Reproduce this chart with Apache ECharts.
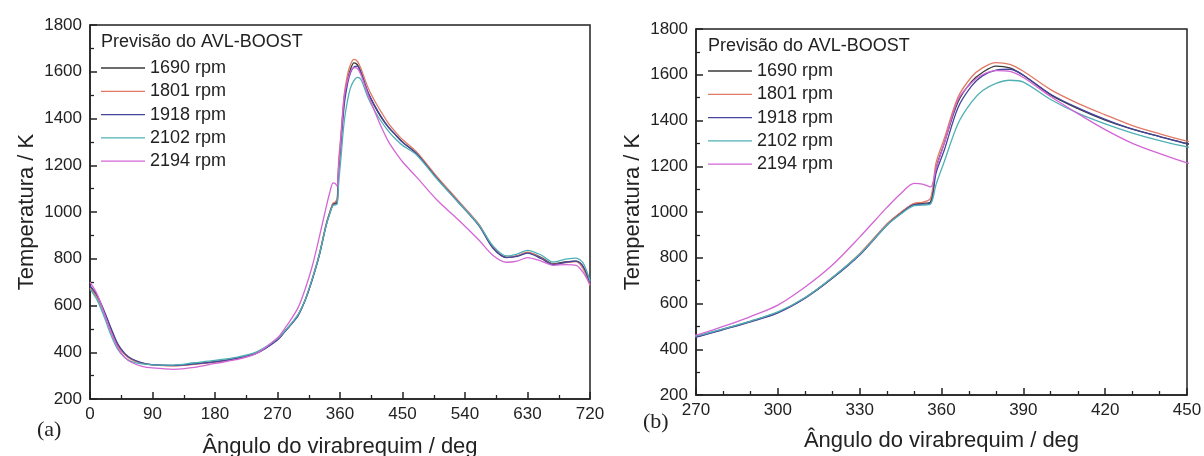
<!DOCTYPE html>
<html>
<head>
<meta charset="utf-8">
<script src="https://cdn.jsdelivr.net/npm/echarts@6/dist/echarts.min.js"></script>
<style>
  html, body { margin: 0; padding: 0; background: #fff; }
  #chart { width: 1204px; height: 456px; }
</style>
</head>
<body>
<div id="chart"></div>
<script>
// Crank angle (deg) shared by every engine speed
const angles = [0, 10, 20, 30, 40, 50, 60, 75, 90, 120, 150, 180, 210, 240, 270,
  280, 290, 300, 310, 320, 330, 340, 345, 350, 353, 356, 358, 361, 366, 371, 375,
  380, 385, 390, 400, 410, 420, 430, 440, 450, 470, 500, 530, 560, 580, 600,
  615, 630, 650, 667, 685, 700, 710, 720];

// In-cylinder temperature (K) predicted by AVL-BOOST
const temp1690 = [680, 640, 575, 500, 432, 392, 370, 353, 346, 343, 350, 360, 373, 397, 455,
  488, 522, 561, 625, 712, 815, 945, 995, 1035, 1038, 1045, 1190, 1300, 1480, 1570, 1610,
  1638, 1630, 1598, 1512, 1452, 1402, 1362, 1330, 1300, 1250, 1145, 1045, 945, 850, 805,
  812, 826, 805, 778, 787, 790, 765, 690];
const temp1801 = [675, 635, 570, 495, 428, 390, 368, 352, 346, 342, 348, 358, 372, 396, 454,
  487, 521, 560, 625, 714, 818, 948, 998, 1038, 1042, 1060, 1215, 1320, 1500, 1590, 1630,
  1653, 1645, 1615, 1535, 1475, 1425, 1378, 1342, 1310, 1258, 1150, 1050, 948, 852, 806,
  812, 828, 802, 776, 783, 788, 758, 685];
const temp1918 = [685, 645, 580, 505, 436, 395, 372, 355, 347, 344, 350, 359, 373, 396, 453,
  486, 520, 559, 623, 710, 812, 942, 992, 1032, 1034, 1040, 1170, 1270, 1455, 1550, 1595,
  1620, 1624, 1598, 1515, 1455, 1405, 1362, 1330, 1298, 1250, 1143, 1043, 942, 846, 806,
  810, 824, 800, 775, 785, 790, 768, 695];
const temp2102 = [670, 625, 555, 475, 412, 378, 360, 350, 346, 345, 355, 365, 378, 402, 458,
  489, 523, 563, 626, 714, 815, 942, 990, 1028, 1030, 1035, 1120, 1220, 1385, 1480, 1530,
  1562, 1576, 1568, 1492, 1432, 1385, 1345, 1312, 1285, 1245, 1140, 1043, 945, 856, 812,
  820, 836, 815, 786, 798, 803, 782, 705];
const temp2194 = [700, 650, 570, 488, 420, 378, 356, 340, 333, 327, 335, 352, 368, 395, 462,
  500, 543, 593, 672, 768, 890, 1020, 1080, 1125, 1122, 1110, 1190, 1300, 1490, 1565, 1600,
  1618, 1615, 1588, 1505, 1430, 1360, 1300, 1255, 1215, 1150, 1050, 968, 880, 815, 785,
  790, 805, 790, 772, 775, 772, 742, 690];

const speedNames = ['1690 rpm', '1801 rpm', '1918 rpm', '2102 rpm', '2194 rpm'];
const speedTemps = [temp1690, temp1801, temp1918, temp2102, temp2194];
const speedColors = ['#3a3a3a', '#e07a66', '#45459e', '#4fb0b4', '#d465d6'];

// Axis ranges [min, max, interval]
const xRangeFull = [0, 720, 90];
const xRangeZoom = [270, 450, 30];
const yRange = [200, 1800, 200];

const SANS = '"Liberation Sans", Arial, sans-serif';
const SERIF = '"Liberation Serif", "Times New Roman", serif';
const INK = '#222';
const plain = v => String(v);

function xAxisFor(gridIndex, range, minorSplit, nameGap) {
  return {
    type: 'value', gridIndex,
    min: range[0], max: range[1], interval: range[2],
    name: 'Ângulo do virabrequim / deg',
    nameLocation: 'middle', nameGap,
    nameTextStyle: { fontSize: 22, color: INK, fontFamily: SANS },
    axisLine: { show: true, onZero: false, lineStyle: { color: INK, width: 1.5 } },
    axisTick: { show: true, inside: true, length: 7, lineStyle: { color: INK, width: 1.5 } },
    minorTick: { show: true, splitNumber: minorSplit, length: 4, lineStyle: { color: INK, width: 1.3 } },
    axisLabel: { fontSize: 17, color: INK, margin: 7, fontFamily: SANS, formatter: plain, showMinLabel: true, showMaxLabel: true },
    splitLine: { show: false }, minorSplitLine: { show: false }
  };
}

function yAxisFor(gridIndex, nameGap) {
  return {
    type: 'value', gridIndex,
    min: yRange[0], max: yRange[1], interval: yRange[2],
    name: 'Temperatura / K',
    nameLocation: 'middle', nameGap,
    nameTextStyle: { fontSize: 22, color: INK, fontFamily: SANS },
    axisLine: { show: true, onZero: false, lineStyle: { color: INK, width: 1.5 } },
    axisTick: { show: true, inside: true, length: 7, lineStyle: { color: INK, width: 1.5 } },
    minorTick: { show: true, splitNumber: 2, length: 4, lineStyle: { color: INK, width: 1.3 } },
    axisLabel: { fontSize: 17, color: INK, margin: 8, fontFamily: SANS, formatter: plain, showMinLabel: true, showMaxLabel: true },
    splitLine: { show: false }, minorSplitLine: { show: false }
  };
}

function legendFor(left, top) {
  return {
    orient: 'vertical', left, top, padding: 0,
    itemGap: 3.3, itemWidth: 44, itemHeight: 1.3,
    icon: 'rect',
    textStyle: { fontSize: 18, color: INK, fontFamily: SANS, lineHeight: 20 },
    data: speedNames
  };
}

const series = [];
[0, 1].forEach(panel => {
  speedNames.forEach((name, k) => {
    series.push({
      type: 'line', name,
      xAxisIndex: panel, yAxisIndex: panel,
      data: angles.map((a, i) => [a, speedTemps[k][i]]),
      symbol: 'none', smooth: 0.3, clip: true,
      color: speedColors[k],
      lineStyle: { color: speedColors[k], width: 1.3 }
    });
  });
});

const chart = echarts.init(document.getElementById('chart'), null, { renderer: 'canvas' });
chart.setOption({
  animation: false,
  backgroundColor: '#fff',
  grid: [
    { left: 90, top: 25, width: 500, height: 374, show: true, borderColor: INK, borderWidth: 1.5, outerBoundsMode: 'none' },
    { left: 696, top: 29, width: 491, height: 366, show: true, borderColor: INK, borderWidth: 1.5, outerBoundsMode: 'none' }
  ],
  xAxis: [xAxisFor(0, xRangeFull, 2, 37), xAxisFor(1, xRangeZoom, 3, 35)],
  yAxis: [yAxisFor(0, 52), yAxisFor(1, 52)],
  legend: [legendFor(101, 58), legendFor(708, 61)],
  graphic: [
    { type: 'text', left: 101, top: 33, style: { text: 'Previsão do AVL-BOOST', fontSize: 18, fontFamily: SANS, fill: INK } },
    { type: 'text', left: 708, top: 37, style: { text: 'Previsão do AVL-BOOST', fontSize: 18, fontFamily: SANS, fill: INK } },
    { type: 'text', left: 37, top: 419, style: { text: '(a)', fontSize: 22, fontFamily: SERIF, fill: INK } },
    { type: 'text', left: 643, top: 411, style: { text: '(b)', fontSize: 22, fontFamily: SERIF, fill: INK } }
  ],
  series
});
</script>
</body>
</html>
